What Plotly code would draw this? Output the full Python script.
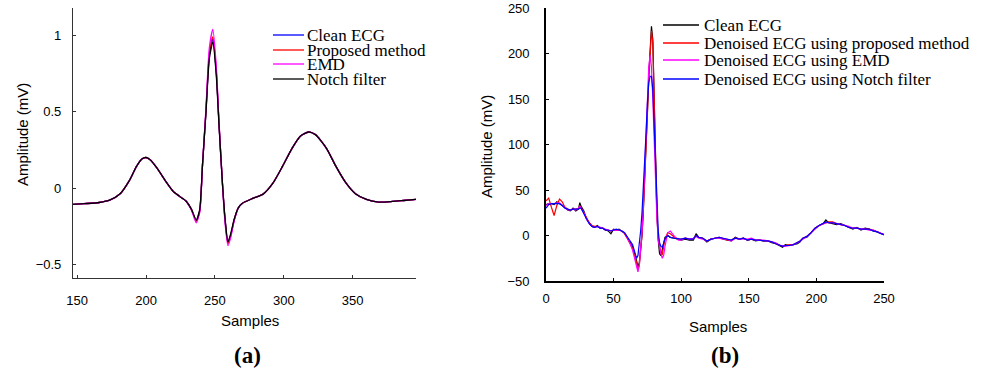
import plotly.graph_objects as go

# ---------------- Panel (a) data ----------------
x_a = [147, 155, 166, 174, 181, 188, 193, 197, 200, 203, 208, 215, 220, 226, 229, 233,
       236.5, 239, 241, 243.5, 246, 248.5, 251, 253, 255.5, 257.5, 259.5, 261.5, 264, 267,
       270, 277, 285, 292, 299, 306, 312, 318, 323, 331, 338, 345, 352, 360, 369, 379, 387, 396]
clean_a = [-0.108, -0.103, -0.095, -0.078, -0.04, 0.05, 0.14, 0.19, 0.2, 0.185, 0.13, 0.035,
           -0.025, -0.065, -0.085, -0.14, -0.215, -0.15, 0.15, 0.5, 0.87, 0.975, 0.76, 0.42,
           0.03, -0.22, -0.36, -0.31, -0.21, -0.13, -0.1, -0.07, -0.04, 0.03, 0.14, 0.26, 0.34,
           0.367, 0.35, 0.26, 0.14, 0.035, -0.037, -0.075, -0.092, -0.088, -0.082, -0.075]
proposed_a = [-0.108, -0.103, -0.095, -0.078, -0.04, 0.05, 0.14, 0.19, 0.2, 0.185, 0.13, 0.035,
              -0.025, -0.065, -0.085, -0.14, -0.218, -0.15, 0.15, 0.5, 0.88, 0.99, 0.77, 0.42,
              0.03, -0.22, -0.365, -0.31, -0.21, -0.13, -0.1, -0.07, -0.04, 0.03, 0.14, 0.26, 0.34,
              0.367, 0.35, 0.26, 0.14, 0.035, -0.037, -0.075, -0.092, -0.088, -0.082, -0.075]
emd_a = [-0.108, -0.103, -0.095, -0.078, -0.04, 0.05, 0.14, 0.19, 0.2, 0.185, 0.13, 0.035,
         -0.025, -0.065, -0.085, -0.145, -0.228, -0.16, 0.15, 0.52, 0.92, 1.04, 0.8, 0.43,
         0.02, -0.24, -0.378, -0.325, -0.215, -0.13, -0.1, -0.07, -0.04, 0.03, 0.14, 0.26, 0.34,
         0.367, 0.35, 0.26, 0.14, 0.035, -0.037, -0.075, -0.092, -0.088, -0.082, -0.075]
notch_a = [-0.108, -0.103, -0.095, -0.078, -0.04, 0.05, 0.14, 0.19, 0.2, 0.185, 0.13, 0.035,
           -0.025, -0.065, -0.085, -0.14, -0.21, -0.14, 0.15, 0.49, 0.85, 0.956, 0.74, 0.41,
           0.03, -0.21, -0.353, -0.3, -0.205, -0.13, -0.1, -0.07, -0.04, 0.03, 0.14, 0.26, 0.34,
           0.367, 0.35, 0.26, 0.14, 0.035, -0.037, -0.075, -0.092, -0.088, -0.082, -0.075]

# ---------------- Panel (b) data ----------------
x_b = [0, 2, 4, 6, 8, 10, 12, 14, 16, 18, 20, 22, 24, 25, 26,
       28, 30, 32, 34, 36, 38, 40, 42, 44, 46, 48, 50, 52, 54, 56, 58, 60, 62, 64, 66,
       67, 68, 69, 70, 71, 72, 73, 74, 75, 76, 77, 78, 79, 80, 81, 82, 83, 84, 85, 86, 87, 88,
       90, 92, 95, 98, 100, 103, 106, 109, 111, 113,
       116, 119, 122, 125, 128, 131, 134, 137, 140, 143, 146, 149, 152, 155, 158, 161, 164, 167, 170, 173,
       175, 177, 180, 183, 186, 188, 190, 193, 196, 199, 202, 205, 207, 209,
       212, 215, 218, 221, 224, 227, 230, 233, 236, 239, 242, 245, 248, 250]
clean_b = [34, 35, 35, 34, 37, 35, 33, 31, 28, 27, 30, 27, 29, 36, 32,
           27, 18, 14, 10, 9, 11, 8, 8, 6, 5, 2, 7, 6, 7, 5, 3, -2, -7, -12, -22,
           -28, -34, -30, -16, 0, 28, 60, 95, 135, 175, 210, 230, 215, 150, 80, 25, -5, -20, -22, -14, -6, -2,
           0, -2, -3, -4, -5, -4, -5, -5, 2, -2,
           -3, -7, -4, -3, -2, -4, -5, -6, -2, -4, -3, -5, -4, -6, -5, -6, -6, -8, -9, -11,
           -13, -10, -11, -10, -9, -7, -3, -2, 3, 8, 11, 13, 17, 14,
           13, 12, 13, 11, 9, 7, 9, 6, 8, 7, 5, 4, 2, 1]
proposed_b = [38, 41, 31, 22, 33, 40, 37, 31, 29, 28, 29, 29, 30, 32, 31,
              25, 19, 14, 11, 10, 10, 9, 8, 6, 6, 5, 6, 6, 6, 5, 2, -3, -8, -14, -24,
              -31, -37, -33, -18, 0, 27, 58, 93, 133, 172, 208, 225, 212, 150, 82, 28, -2, -14, -20, -21, -13, -4,
              3, 2, -2, -4, -4, -3, -4, -4, 0, -2,
              -3, -6, -4, -3, -2, -3, -5, -5, -3, -4, -3, -5, -4, -5, -5, -6, -6, -7, -9, -11,
              -12, -11, -10, -10, -8, -6, -3, -1, 3, 8, 11, 13, 14, 15,
              15, 13, 12, 11, 9, 8, 8, 7, 7, 7, 6, 4, 2, 1]
emd_b = [33, 35, 35, 35, 36, 36, 33, 30, 28, 28, 29, 28, 30, 32, 30,
         25, 18, 13, 10, 9, 10, 9, 8, 7, 6, 5, 6, 6, 6, 5, 3, -2, -8, -16, -28,
         -35, -40, -33, -16, 5, 35, 70, 110, 150, 185, 198, 185, 150, 105, 60, 20, -5, -15, -20, -25, -22, -12,
         3, 5, -1, -5, -5, -3, -4, -3, -1, -3,
         -4, -6, -4, -3, -3, -4, -4, -6, -3, -4, -4, -4, -3, -5, -5, -5, -6, -7, -8, -11,
         -11, -12, -11, -10, -8, -6, -4, -1, 3, 7, 11, 13, 14, 14,
         14, 13, 12, 11, 10, 8, 8, 7, 7, 6, 6, 4, 2, 1]
notch_b = [30, 34, 35, 35, 35, 35, 33, 30, 29, 28, 29, 29, 29, 30, 30,
           24, 18, 13, 10, 9, 10, 8, 8, 6, 6, 5, 6, 7, 6, 5, 3, -1, -5, -10, -20,
           -25, -22, -10, 5, 25, 50, 80, 112, 145, 168, 175, 175, 160, 120, 75, 35, 5, -8, -12, -13, -9, -4,
           0, -2, -3, -4, -4, -3, -4, -4, 0, -2,
           -3, -6, -4, -3, -2, -3, -4, -5, -3, -4, -3, -5, -4, -5, -5, -6, -6, -7, -9, -11,
           -12, -11, -11, -10, -8, -6, -3, -1, 3, 8, 11, 13, 15, 14,
           14, 13, 12, 11, 9, 8, 8, 7, 7, 7, 5, 4, 2, 1]

legend_a = ["Clean ECG", "Proposed method", "EMD", "Notch filter"]
legend_b = ["Clean ECG", "Denoised ECG using proposed method",
            "Denoised ECG using EMD", "Denoised ECG using Notch filter"]
ticks_ax = [150, 200, 250, 300, 350]
ticks_ay = [-0.5, 0, 0.5, 1]
ticks_bx = [0, 50, 100, 150, 200, 250]
ticks_by = [-50, 0, 50, 100, 150, 200, 250]

BLUE, RED, MAG, BLK = "#0000ff", "#ff0000", "#ff00ff", "#000000"
W, H = 986, 368


def px(x):
    return x / W


def py(y):
    return 1 - y / H


fig = go.Figure()
for ys, col in [(clean_a, BLUE), (proposed_a, RED), (emd_a, MAG), (notch_a, BLK)]:
    fig.add_trace(go.Scatter(x=x_a, y=ys, mode="lines", line=dict(color=col, width=1.3, shape="spline", smoothing=0.6),
                             xaxis="x", yaxis="y", showlegend=False, hoverinfo="skip"))
for ys, col in [(clean_b, BLK), (proposed_b, RED), (emd_b, MAG), (notch_b, BLUE)]:
    fig.add_trace(go.Scatter(x=x_b, y=ys, mode="lines", line=dict(color=col, width=1.2),
                             xaxis="x2", yaxis="y2", showlegend=False, hoverinfo="skip"))

tickfont = dict(family="Liberation Sans, Arial, sans-serif", size=13, color="#000")
common = dict(showgrid=False, zeroline=False, ticks="inside", ticklen=3, tickfont=tickfont,
              mirror=False, showline=True, automargin=False)

fig.update_layout(
    width=W, height=H,
    margin=dict(l=0, r=0, t=0, b=0, autoexpand=False),
    paper_bgcolor="white", plot_bgcolor="white",
    xaxis=dict(domain=[px(73), px(416)], range=[147, 396], tickvals=ticks_ax, anchor="y",
               linecolor="#333", linewidth=1.2, tickcolor="#333", ticklabelstandoff=10, **common),
    yaxis=dict(domain=[py(278), py(8)], range=[-0.59, 1.18], tickvals=ticks_ay, anchor="x",
               linecolor="#333", linewidth=1.2, tickcolor="#333", ticklabelstandoff=8, **common),
    xaxis2=dict(domain=[px(546), px(884)], range=[0, 250], tickvals=ticks_bx, anchor="y2",
                linecolor="#000", linewidth=1.6, tickcolor="#000", ticklabelstandoff=5, **common),
    yaxis2=dict(domain=[py(281), py(8)], range=[-50, 250], tickvals=ticks_by, anchor="x2",
                linecolor="#000", linewidth=1.6, tickcolor="#000", ticklabelstandoff=12, **common),
)

titlefont = dict(family="Liberation Sans, Arial, sans-serif", size=15, color="#000")
serif = dict(family="Liberation Serif, Times New Roman, serif", size=17, color="#000")
bold = dict(family="Liberation Serif, Times New Roman, serif", size=23, color="#000")

ann = []
ann.append(dict(x=px(250), y=py(320), text="Samples", font=titlefont))
ann.append(dict(x=px(718), y=py(326), text="Samples", font=titlefont))
ann.append(dict(x=px(22), y=py(135), text="Amplitude (mV)", font=titlefont, textangle=-90))
ann.append(dict(x=px(487), y=py(147), text="Amplitude (mV)", font=titlefont, textangle=-90))
ann.append(dict(x=px(247), y=py(355), text="<b>(a)</b>", font=bold))
ann.append(dict(x=px(725), y=py(355), text="<b>(b)</b>", font=bold))

shapes = []
rows_a = [35, 50, 64, 79]
for name, col, yy in zip(legend_a, [BLUE, RED, MAG, BLK], rows_a):
    shapes.append(dict(type="line", xref="paper", yref="paper", x0=px(273), x1=px(304), y0=py(yy), y1=py(yy),
                       line=dict(color=col, width=1.3)))
    ann.append(dict(x=px(305), y=py(yy), text=name, font=serif, xanchor="left"))
rows_b = [25, 43, 60, 79]
for name, col, yy in zip(legend_b, [BLK, RED, MAG, BLUE], rows_b):
    shapes.append(dict(type="line", xref="paper", yref="paper", x0=px(663), x1=px(699), y0=py(yy), y1=py(yy),
                       line=dict(color=col, width=1.3)))
    ann.append(dict(x=px(702), y=py(yy), text=name, font=serif, xanchor="left"))

for a in ann:
    a.setdefault("xref", "paper")
    a.setdefault("yref", "paper")
    a.setdefault("showarrow", False)
    a.setdefault("xanchor", "center")
    a.setdefault("yanchor", "middle")
fig.update_layout(annotations=ann, shapes=shapes)

fig.write_html("out.html", config={"displayModeBar": False},
               post_script="document.body.style.margin='0';document.body.style.overflow='hidden';")
